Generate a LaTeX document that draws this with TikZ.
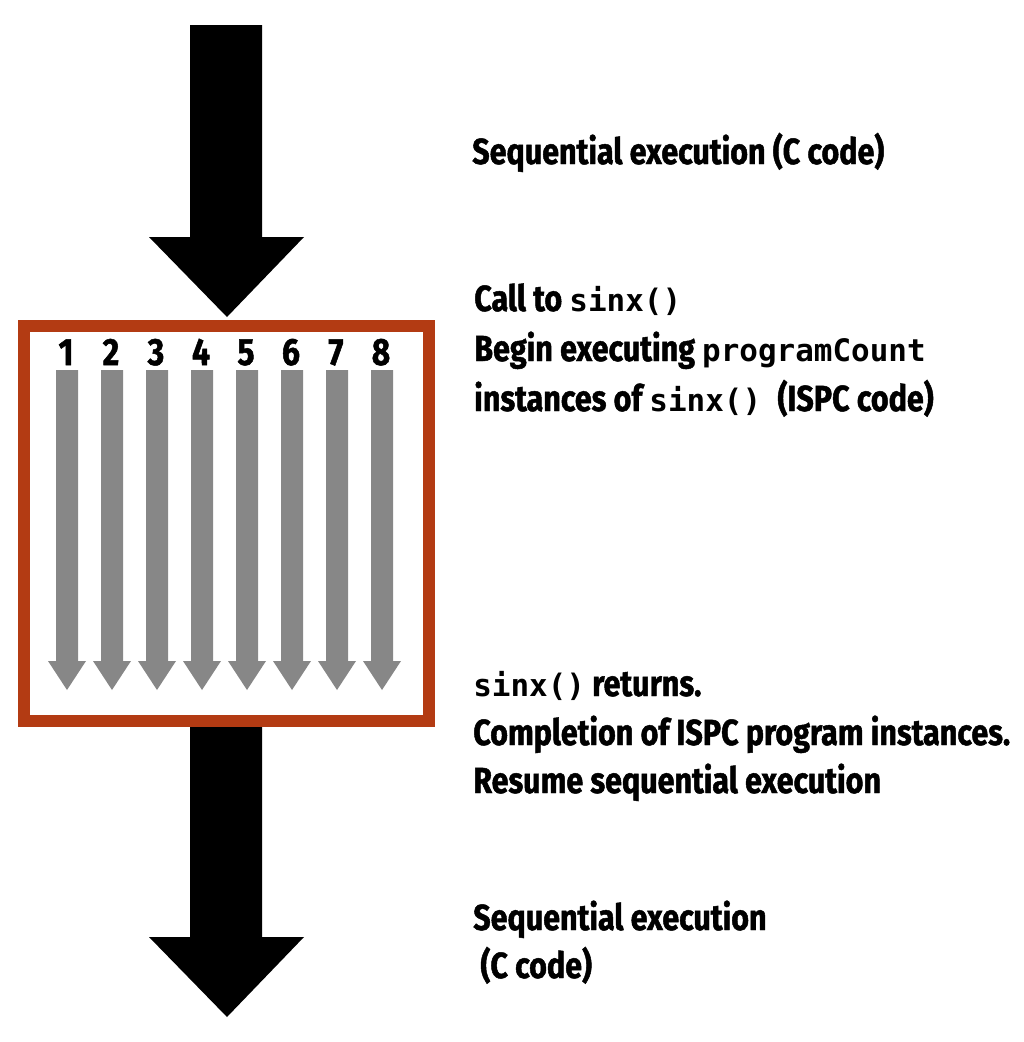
\documentclass[tikz,border=0pt]{standalone}
\usepackage{fontspec}
\usepackage{xcolor}
\newfontfamily\labelfont{Fira Sans}[FakeStretch=0.84, FakeBold=1.3]
\newfontfamily\codefont{DejaVu Sans Mono}
\newcommand{\codetxt}[1]{{\codefont\bfseries\fontsize{22}{26}\selectfont #1}}
\definecolor{lanebox}{HTML}{B33B13}
\definecolor{lanegray}{HTML}{878787}

\begin{document}
\begin{tikzpicture}[x=0.025cm, y=-0.025cm,
    seq_arrow/.style={fill=black},
    lane_arrow/.style={fill=lanegray},
    lane_box/.style={draw=lanebox, line width=0.3cm},
    lane_num/.style={font=\labelfont\bfseries\fontsize{27}{28}\selectfont, anchor=base, inner sep=0pt},
    note_text/.style={font=\labelfont\bfseries\fontsize{25.8}{28}\selectfont, anchor=base west, inner sep=0pt}
]
    \useasboundingbox (0,0) rectangle (1024,1042);

    % Sequential part before the call
    \fill[seq_arrow] (190,25) -- (262,25) -- (262,237) -- (304,237) -- (227,317)
        -- (149,237) -- (190,237) -- cycle;

    % Gang of program instances
    \draw[lane_box] (24,325.5) rectangle (428.5,720.5);
    \foreach \i in {1,...,8} {
        \pgfmathsetmacro{\cx}{67+45*(\i-1)}
        \node[lane_num] (num\i) at (\cx-1,365) {\i};
        \fill[lane_arrow] (\cx-11,370) -- (\cx+11,370) -- (\cx+11,661) -- (\cx+19,661)
            -- (\cx,690) -- (\cx-19,661) -- (\cx-11,661) -- cycle;
    }

    % Sequential part after the return
    \fill[seq_arrow] (190,727) -- (262,727) -- (262,937) -- (304,937) -- (227,1017)
        -- (149,937) -- (190,937) -- cycle;

    % Notes
    \node[note_text] (seq_top) at (472,164) {Sequential execution (C code)};
    \node[note_text] (call) at (474,311) {Call to \codetxt{sinx()}};
    \node[note_text] (begin) at (474,361) {Begin executing \codetxt{programCount}};
    \node[note_text] (inst) at (474,411) {instances of \codetxt{sinx()}\hspace{0.45em}(ISPC code)};
    \node[note_text] (ret) at (473,696) {\codetxt{sinx()} returns.};
    \node[note_text] (done) at (473,745) {Completion of ISPC program instances.};
    \node[note_text] (resume) at (473,793) {Resume sequential execution};
    \node[note_text] (seq_bot) at (473,930) {Sequential execution};
    \node[note_text] (seq_code) at (473,978) {\ (C code)};

\end{tikzpicture}
\end{document}
